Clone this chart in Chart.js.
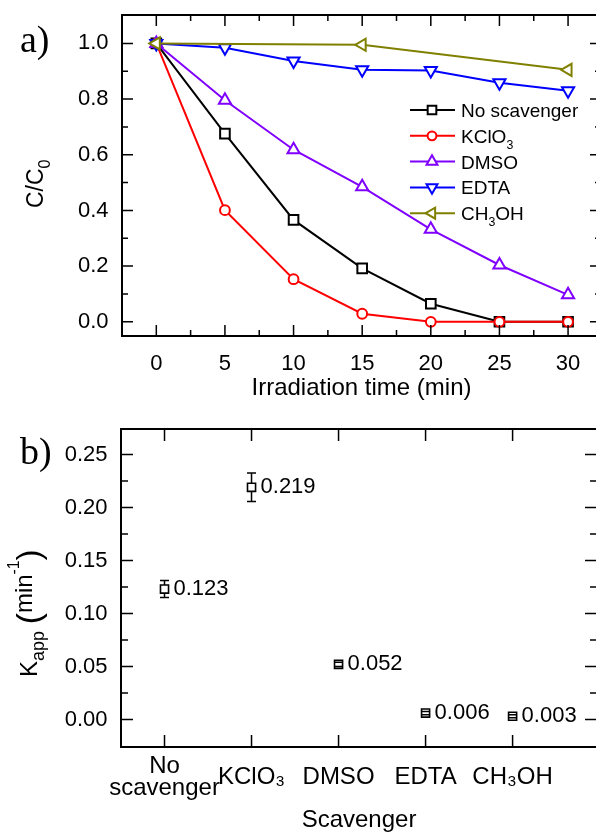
<!DOCTYPE html>
<html>
<head>
<meta charset="utf-8">
<script src="https://cdn.jsdelivr.net/npm/chart.js@4.4.1/dist/chart.umd.min.js"></script>
<style>
html, body { margin: 0; padding: 0; background: #fff; overflow: hidden; width: 596px; height: 832px; }
.panel { position: relative; overflow: visible; }
canvas { display: block; }
</style>
</head>
<body>
<div class="panel" style="width:601px;height:400px"><canvas id="decayChart" width="601" height="400" style="width:601px;height:400px"></canvas></div>
<div class="panel" style="width:597px;height:432px"><canvas id="rateChart" width="597" height="432" style="width:597px;height:432px"></canvas></div>
<script>
// a) C/C0 against irradiation time
var times = [0, 5, 10, 15, 20, 25, 30];
var noScavenger = [1.0, 0.676, 0.366, 0.192, 0.065, 0.0, 0.0];
var kclo3 = [1.0, 0.401, 0.153, 0.029, 0.0, 0.0, 0.0];
var dmso = [1.0, 0.796, 0.618, 0.485, 0.332, 0.204, 0.097];
var edta = [1.0, 0.984, 0.937, 0.905, 0.903, 0.859, 0.830];
var methanolTimes = [0, 15, 30];
var methanol = [1.0, 0.995, 0.905];
var seriesLabels = ['No scavenger', 'KClO₃', 'DMSO', 'EDTA', 'CH₃OH'];
var timeTicks = [0, 5, 10, 15, 20, 25, 30];
var ratioTicks = [0, 0.2, 0.4, 0.6, 0.8, 1.0];

// b) apparent rate constants
var scavengers = [['No', 'scavenger'], 'KClO₃', 'DMSO', 'EDTA', 'CH₃OH'];
var kapp = [0.123, 0.219, 0.052, 0.006, 0.003];
var kappErr = [0.008, 0.0135, 0.002, 0.0015, 0.0015];
var kappTicks = [0, 0.05, 0.10, 0.15, 0.20, 0.25];

var SANS = "'Liberation Sans', Arial, sans-serif";
Chart.defaults.font.family = SANS;
Chart.defaults.color = '#000';
Chart.defaults.animation = false;

function pts(xs, ys) {
    return xs.map(function (x, i) { return { x: x, y: ys[i] }; });
}

function minorValues(major, min, max) {
    var step = major[1] - major[0], out = [];
    for (var v = major[0] - step / 2; v < max; v += step) {
        if (v > min + step * 0.05 && v < max - step * 0.05) out.push(v);
    }
    return out;
}

// text with small lowered/raised pieces
function richText(ctx, parts, x, y, size) {
    var cx = x;
    parts.forEach(function (p) {
        ctx.font = (size * (p.s || 1)) + 'px ' + SANS;
        ctx.fillText(p.t, cx, y + (p.dy || 0) * size);
        cx += ctx.measureText(p.t).width;
    });
    return cx - x;
}

function subParts(label) {
    var subs = '₀₁₂₃₄₅₆₇₈₉', parts = [];
    Array.from(label).forEach(function (ch) {
        var k = subs.indexOf(ch);
        if (k >= 0) parts.push({ t: String(k), s: 0.65, dy: 0.3 });
        else if (parts.length && !parts[parts.length - 1].s) parts[parts.length - 1].t += ch;
        else parts.push({ t: ch });
    });
    return parts;
}

// keep the plot box exactly where the axes say, no room for edge labels
function noEdgePadding(s) {
    s.paddingLeft = 0; s.paddingRight = 0; s.paddingTop = 0; s.paddingBottom = 0;
}

// full box with inward ticks on all four sides
var framePlugin = {
    id: 'frame',
    afterDraw: function (chart, args, o) {
        var ctx = chart.ctx, a = chart.chartArea, xs = chart.scales.x, ys = chart.scales.y;
        ctx.save();
        ctx.strokeStyle = '#000';
        ctx.lineWidth = 2;
        ctx.strokeRect(a.left, a.top, a.right - a.left, a.bottom - a.top);
        ctx.lineWidth = 1.5;
        ctx.beginPath();
        function xTick(v, len) {
            var p = xs.getPixelForValue(v);
            ctx.moveTo(p, a.bottom); ctx.lineTo(p, a.bottom - len);
            ctx.moveTo(p, a.top); ctx.lineTo(p, a.top + len);
        }
        function yTick(v, len) {
            var p = ys.getPixelForValue(v);
            ctx.moveTo(a.left, p); ctx.lineTo(a.left + len, p);
            ctx.moveTo(a.right, p); ctx.lineTo(a.right - len, p);
        }
        var xm = xs.ticks.map(function (t) { return t.value; });
        var ym = ys.ticks.map(function (t) { return t.value; });
        xm.forEach(function (v) { xTick(v, o.major); });
        ym.forEach(function (v) { yTick(v, o.major); });
        if (o.xMinor) minorValues(xm, xs.min, xs.max).forEach(function (v) { xTick(v, o.minor); });
        minorValues(ym, ys.min, ys.max).forEach(function (v) { yTick(v, o.minor); });
        ctx.stroke();

        // panel letter and rotated y title
        ctx.fillStyle = '#000';
        ctx.textBaseline = 'alphabetic';
        ctx.textAlign = 'left';
        ctx.font = '38px "Liberation Serif", serif';
        ctx.fillText(o.panel, o.panelX, o.panelY);
        ctx.translate(o.titleX, o.titleY);
        ctx.rotate(-Math.PI / 2);
        richText(ctx, o.titleParts, 0, 0, o.titleSize);
        ctx.restore();
    }
};

// legend with line-marker-line samples
var lineLegendPlugin = {
    id: 'lineLegend',
    afterDatasetsDraw: function (chart, args, o) {
        var ctx = chart.ctx;
        ctx.save();
        chart.data.datasets.forEach(function (ds, i) {
            var y = o.y + i * o.step;
            ctx.strokeStyle = ds.borderColor;
            ctx.fillStyle = '#fff';
            ctx.lineWidth = 2;
            ctx.beginPath();
            ctx.moveTo(o.x, y); ctx.lineTo(o.x + 45, y);
            ctx.stroke();
            Chart.helpers.drawPoint(ctx, {
                pointStyle: ds.pointStyle, rotation: ds.pointRotation || 0,
                radius: ds.pointRadius * 0.9, borderWidth: 2
            }, o.x + 22, y);
            ctx.fillStyle = '#000';
            ctx.textBaseline = 'alphabetic';
            richText(ctx, subParts(ds.label), o.x + 51, y + 7, o.size);
        });
        ctx.restore();
    }
};

// error bars and value labels for panel b
var rateMarksPlugin = {
    id: 'rateMarks',
    afterDatasetsDraw: function (chart) {
        var ctx = chart.ctx, xs = chart.scales.x, ys = chart.scales.y;
        ctx.save();
        ctx.strokeStyle = '#000';
        ctx.lineWidth = 1.5;
        ctx.beginPath();
        kapp.forEach(function (v, i) {
            var px = xs.getPixelForValue(i), py = ys.getPixelForValue(v);
            var hi = ys.getPixelForValue(v + kappErr[i]), lo = ys.getPixelForValue(v - kappErr[i]);
            var half = 4;
            if (hi < py - half) { ctx.moveTo(px, hi); ctx.lineTo(px, py - half); }
            if (lo > py + half) { ctx.moveTo(px, py + half); ctx.lineTo(px, lo); }
            ctx.moveTo(px - 4.5, hi); ctx.lineTo(px + 4.5, hi);
            ctx.moveTo(px - 4.5, lo); ctx.lineTo(px + 4.5, lo);
        });
        ctx.stroke();
        ctx.fillStyle = '#000';
        ctx.font = '22px ' + SANS;
        ctx.textBaseline = 'middle';
        kapp.forEach(function (v, i) {
            ctx.fillText(v.toFixed(3), xs.getPixelForValue(i) + 9, ys.getPixelForValue(v));
        });
        ctx.restore();
    }
};

function series(label, data, color, style, radius, rotation, order) {
    return {
        label: label, data: data, borderColor: color, backgroundColor: '#fff',
        borderWidth: 2, pointStyle: style, pointRadius: radius, pointRotation: rotation,
        pointBorderWidth: 2, pointBackgroundColor: '#fff', pointBorderColor: color,
        tension: 0, order: order
    };
}

new Chart(document.getElementById('decayChart'), {
    type: 'line',
    data: {
        datasets: [
            series(seriesLabels[0], pts(times, noScavenger), '#000000', 'rect', 6.8, 0, 5),
            series(seriesLabels[1], pts(times, kclo3), '#ff0000', 'circle', 4.9, 0, 4),
            series(seriesLabels[2], pts(times, dmso), '#8000ff', 'triangle', 7, 0, 3),
            series(seriesLabels[3], pts(times, edta), '#0000ff', 'triangle', 7, 180, 2),
            series(seriesLabels[4], pts(methanolTimes, methanol), '#808000', 'triangle', 7, -90, 1)
        ]
    },
    options: {
        responsive: false,
        devicePixelRatio: 1,
        layout: { autoPadding: false, padding: { top: 15, left: 0, right: 0, bottom: 0 } },
        plugins: {
            legend: { display: false },
            tooltip: { enabled: false },
            frame: {
                major: 11, minor: 6, xMinor: true, panel: 'a)', panelX: 20, panelY: 52,
                titleX: 43, titleY: 208, titleSize: 23,
                titleParts: [{ t: 'C/C' }, { t: '0', s: 0.7, dy: 0.3 }]
            },
            lineLegend: { x: 410, y: 110, step: 25.8, size: 19 }
        },
        scales: {
            x: {
                type: 'linear', min: -2.5, max: 32.4,
                grid: { display: false, drawTicks: false }, border: { display: false },
                afterBuildTicks: function (s) { s.ticks = timeTicks.map(function (v) { return { value: v }; }); },
                afterFit: function (s) { s.height = 64; noEdgePadding(s); },
                ticks: { font: { size: 22 }, padding: 15, autoSkip: false, maxRotation: 0,
                    callback: function (v) { return String(v); } },
                title: { display: true, text: 'Irradiation time (min)', font: { size: 24, lineHeight: 1 }, padding: 0 }
            },
            y: {
                min: -0.051, max: 1.102,
                grid: { display: false, drawTicks: false }, border: { display: false },
                afterBuildTicks: function (s) { s.ticks = ratioTicks.map(function (v) { return { value: v }; }); },
                afterFit: function (s) { s.width = 122; noEdgePadding(s); },
                ticks: { font: { size: 22 }, padding: 13.5, callback: function (v) { return v.toFixed(1); } }
            }
        }
    },
    plugins: [framePlugin, lineLegendPlugin]
});

new Chart(document.getElementById('rateChart'), {
    type: 'scatter',
    data: {
        datasets: [{
            label: 'Kapp', data: pts([0, 1, 2, 3, 4], kapp),
            pointStyle: 'rect', pointRadius: 5.7, pointBorderWidth: 1.6,
            pointBorderColor: '#000', pointBackgroundColor: '#fff'
        }]
    },
    options: {
        responsive: false,
        devicePixelRatio: 1,
        layout: { autoPadding: false, padding: { top: 29, left: 0, right: 0, bottom: 0 } },
        plugins: {
            legend: { display: false },
            tooltip: { enabled: false },
            frame: {
                major: 12, minor: 7, xMinor: false, panel: 'b)', panelX: 20, panelY: 64,
                titleX: 37, titleY: 277, titleSize: 24,
                titleParts: [{ t: 'K' }, { t: 'app', s: 0.75, dy: 0.28 }, { t: ' ' },
                    { t: '(', s: 1.4, dy: 0.12 }, { t: 'min', dy: -0.2 },
                    { t: '-1', s: 0.65, dy: -0.75 }, { t: ')', s: 1.4, dy: 0.12 }]
            }
        },
        scales: {
            x: {
                type: 'linear', min: -0.5, max: 4.97,
                grid: { display: false, drawTicks: false }, border: { display: false },
                afterBuildTicks: function (s) { s.ticks = scavengers.map(function (c, i) { return { value: i }; }); },
                afterFit: function (s) { s.height = 85; noEdgePadding(s); },
                ticks: { font: { size: 24, lineHeight: 0.92 }, padding: 19, autoSkip: false, maxRotation: 0,
                    crossAlign: 'center',
                    callback: function (v) { return scavengers[v]; } },
                title: { display: true, text: 'Scavenger', font: { size: 24, lineHeight: 1 }, padding: 0 }
            },
            y: {
                min: -0.026, max: 0.274,
                grid: { display: false, drawTicks: false }, border: { display: false },
                afterBuildTicks: function (s) { s.ticks = kappTicks.map(function (v) { return { value: v }; }); },
                afterFit: function (s) { s.width = 121; noEdgePadding(s); },
                ticks: { font: { size: 22 }, padding: 13.5, callback: function (v) { return v.toFixed(2); } }
            }
        }
    },
    plugins: [framePlugin, rateMarksPlugin]
});
</script>
</body>
</html>
